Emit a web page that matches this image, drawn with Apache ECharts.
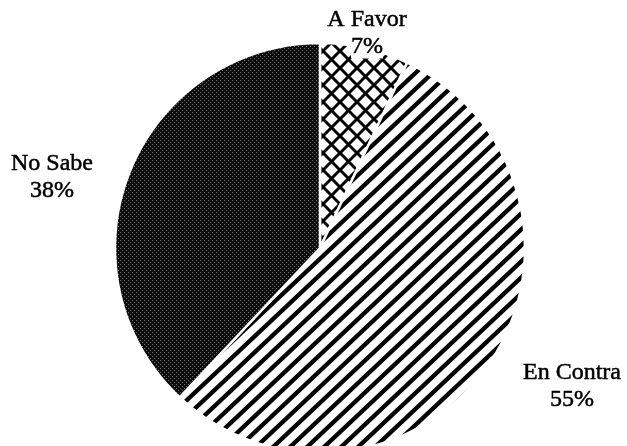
<!DOCTYPE html>
<html>
<head>
<meta charset="utf-8">
<script src="https://cdn.jsdelivr.net/npm/echarts@6/dist/echarts.min.js"></script>
<style>
html,body{margin:0;padding:0;background:#fff;}
#chart{width:627px;height:446px;}
</style>
</head>
<body>
<div id="chart"></div>
<script>
// Data
const categories = ['A Favor', 'En Contra', 'No Sabe'];
const values = [7, 55, 38];
// Label anchor points (text layout only)
const labelPos = [[367, 33], [572, 386], [52, 177]];

function stripeTile(w, h, lw) {
  const c = document.createElement('canvas');
  c.width = w; c.height = h;
  const g = c.getContext('2d');
  g.fillStyle = '#fff'; g.fillRect(0, 0, w, h);
  g.strokeStyle = '#000'; g.lineWidth = lw; g.lineCap = 'square';
  for (let k = -3; k <= 3; k++) {
    g.beginPath(); g.moveTo(k * w - w, 2 * h); g.lineTo(k * w + 2 * w, -h); g.stroke();
  }
  return c;
}
function crossTile(s, lw) {
  const c = document.createElement('canvas');
  c.width = s; c.height = s;
  const g = c.getContext('2d');
  g.fillStyle = '#fff'; g.fillRect(0, 0, s, s);
  g.strokeStyle = '#000'; g.lineWidth = lw; g.lineCap = 'square';
  for (let k = -3; k <= 3; k++) {
    g.beginPath(); g.moveTo(k * s - s, 2 * s); g.lineTo(k * s + 2 * s, -s); g.stroke();
    g.beginPath(); g.moveTo(k * s - s, -s); g.lineTo(k * s + 2 * s, 2 * s); g.stroke();
  }
  return c;
}
function dotTile() {
  const c = document.createElement('canvas');
  c.width = 4; c.height = 4;
  const g = c.getContext('2d');
  g.fillStyle = '#0c0c0c'; g.fillRect(0, 0, 4, 4);
  g.fillStyle = '#747474';
  g.fillRect(0, 0, 1, 1); g.fillRect(2, 2, 1, 1);
  return c;
}
const fills = [
  { image: crossTile(17, 3), repeat: 'repeat' },
  { image: stripeTile(17, 16, 4.3), repeat: 'repeat' },
  { image: dotTile(), repeat: 'repeat' }
];

const chart = echarts.init(document.getElementById('chart'), null, { renderer: 'canvas' });
chart.setOption({
  backgroundColor: '#fff',
  animation: false,
  series: [{
    type: 'pie',
    center: [320, 248],
    radius: 205,
    startAngle: 90,
    clockwise: true,
    avoidLabelOverlap: false,
    silent: true,
    data: categories.map((n, i) => ({ name: n, value: values[i], itemStyle: { color: fills[i] } })),
    itemStyle: { borderColor: '#fff', borderWidth: 2.5 },
    label: {
      show: true,
      position: 'outside',
      formatter: '{n|{b}}\n{p|{c}%}',
      align: 'center',
      rich: {
        n: {
          fontFamily: 'Liberation Serif', fontSize: 24, lineHeight: 27,
          color: '#000', textBorderColor: '#000', textBorderWidth: 0.5, align: 'center'
        },
        p: {
          fontFamily: 'Liberation Serif', fontSize: 24, lineHeight: 27,
          color: '#000', textBorderColor: '#000', textBorderWidth: 0.5, align: 'center',
          backgroundColor: '#fff'
        }
      }
    },
    labelLine: { show: false },
    labelLayout: function (p) {
      const q = labelPos[p.dataIndex];
      return { x: q[0], y: q[1], align: 'center', verticalAlign: 'middle' };
    }
  }]
});
</script>
</body>
</html>
